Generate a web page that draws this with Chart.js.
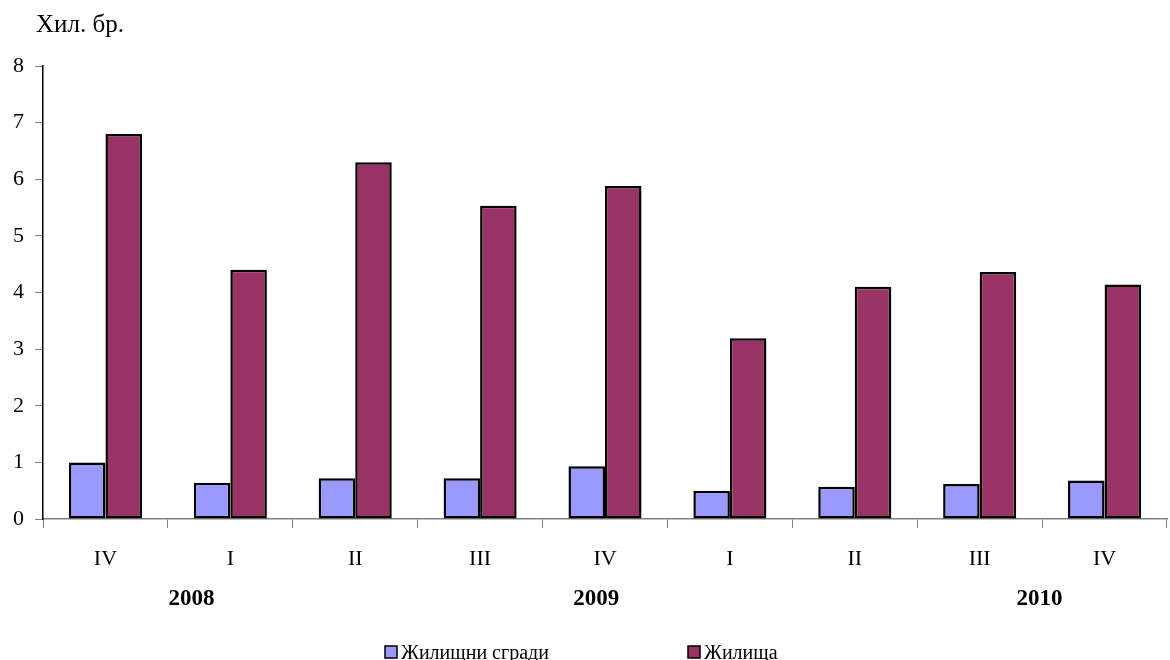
<!DOCTYPE html>
<html>
<head>
<meta charset="utf-8">
<script src="https://cdn.jsdelivr.net/npm/chart.js@4/dist/chart.umd.min.js"></script>
<style>
  html, body { margin: 0; padding: 0; background: #fff; }
  #wrap { width: 1170px; height: 660px; position: relative; }
</style>
</head>
<body>
<div id="wrap"><canvas id="chart"></canvas></div>
<script>
// Quarters (2008 Q4 - 2010 Q4)
const quarters = ['IV', 'I', 'II', 'III', 'IV', 'I', 'II', 'III', 'IV'];
const years = ['2008', '2009', '2010'];
const buildings = [1.0, 0.64, 0.72, 0.72, 0.93, 0.5, 0.57, 0.62, 0.68];
const dwellings = [6.8, 4.4, 6.3, 5.53, 5.88, 3.19, 4.1, 4.36, 4.14];
const seriesNames = ['Жилищни сгради', 'Жилища'];
const yTicks = [0, 1, 2, 3, 4, 5, 6, 7, 8];

const FONT = '"Liberation Serif", "Times New Roman", serif';

// year captions under the quarter labels (x given as category index)
const yearPlugin = {
    id: 'yearLabels',
    afterDraw(chart) {
        const ctx = chart.ctx;
        const x = chart.scales.x;
        const at = [0.69, 3.93, 7.48];
        ctx.save();
        ctx.font = 'bold 23px ' + FONT;
        ctx.fillStyle = '#000';
        ctx.textAlign = 'center';
        ctx.textBaseline = 'middle';
        years.forEach((y, i) => {
            ctx.fillText(y, x.getPixelForValue(at[i]), 599);
        });
        // unit caption
        ctx.textAlign = 'left';
        ctx.textBaseline = 'alphabetic';
        ctx.font = '25px ' + FONT;
        ctx.fillText('Хил. бр.', 36, 32);
        ctx.restore();
    }
};

// legend at bottom
const legendPlugin = {
    id: 'bottomLegend',
    afterDraw(chart) {
        const ctx = chart.ctx;
        const xs = [385, 688];
        ctx.save();
        ctx.font = '20px ' + FONT;
        ctx.textBaseline = 'middle';
        ctx.textAlign = 'left';
        chart.data.datasets.forEach((ds, i) => {
            ctx.fillStyle = ds.backgroundColor;
            ctx.fillRect(xs[i], 646, 12, 12);
            ctx.strokeStyle = '#000';
            ctx.lineWidth = 1.5;
            ctx.strokeRect(xs[i], 646, 12, 12);
            ctx.fillStyle = '#000';
            ctx.fillText(ds.label, xs[i] + 16, 654);
        });
        ctx.restore();
    }
};

new Chart(document.getElementById('chart'), {
    type: 'bar',
    data: {
        labels: quarters,
        datasets: [{
            label: seriesNames[0],
            data: buildings,
            backgroundColor: '#9999FF',
            borderColor: '#000',
            borderWidth: 2.5,
            borderSkipped: false,
            categoryPercentage: 0.585,
            barPercentage: 1
        }, {
            label: seriesNames[1],
            data: dwellings,
            backgroundColor: '#993366',
            borderColor: '#000',
            borderWidth: 2.5,
            borderSkipped: false,
            categoryPercentage: 0.585,
            barPercentage: 1
        }]
    },
    options: {
        responsive: true,
        maintainAspectRatio: false,
        animation: false,
        layout: { padding: { top: 66, right: 3, left: 0, bottom: 0 } },
        plugins: {
            legend: { display: false },
            tooltip: { enabled: false }
        },
        scales: {
            x: {
                offset: true,
                afterFit(scale) { scale.height = 141; },
                grid: {
                    offset: true,
                    drawOnChartArea: false,
                    drawTicks: true,
                    tickLength: 9,
                    color: '#808080'
                },
                border: { display: true, color: '#808080', width: 1.5 },
                ticks: {
                    padding: 18,
                    color: '#000',
                    font: { family: FONT, size: 22 }
                }
            },
            y: {
                min: 0,
                max: 8,
                afterFit(scale) { scale.width = 43; },
                afterBuildTicks(scale) {
                    scale.ticks = yTicks.map(v => ({ value: v }));
                },
                grid: {
                    drawOnChartArea: false,
                    drawTicks: true,
                    tickLength: 8,
                    color: '#808080'
                },
                border: { display: true, color: '#000', width: 1.5 },
                ticks: {
                    padding: 11,
                    color: '#000',
                    font: { family: FONT, size: 22 }
                }
            }
        }
    },
    plugins: [yearPlugin, legendPlugin]
});
</script>
</body>
</html>
